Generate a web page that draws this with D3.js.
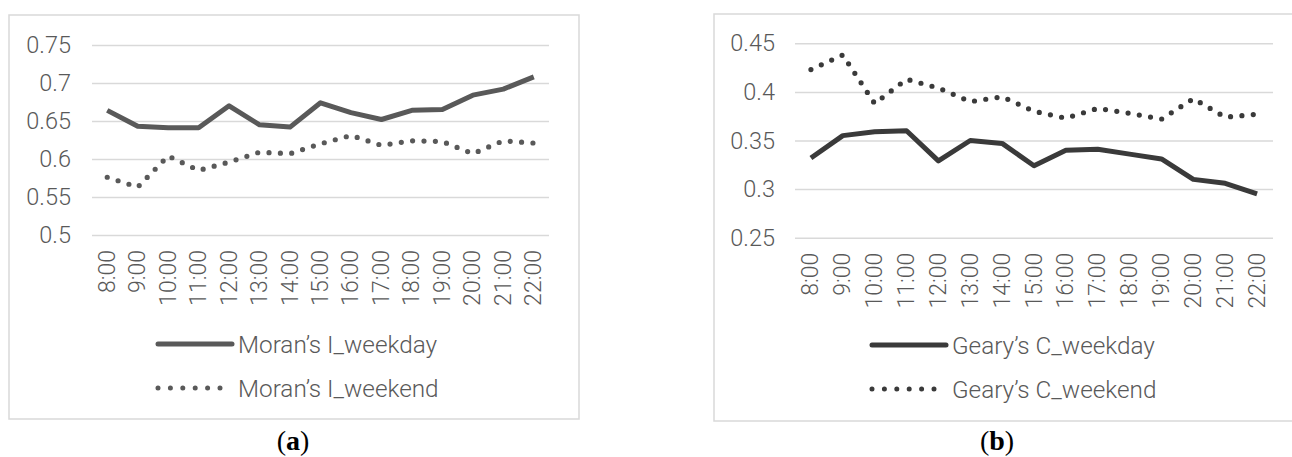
<!DOCTYPE html>
<html>
<head>
<meta charset="utf-8">
<script src="https://cdn.jsdelivr.net/npm/d3@7"></script>
<style>
  body { margin: 0; background: #fff; }
  svg { display: block; }
  text { font-family: Roboto, "Noto Sans", sans-serif; font-weight: 300; }
</style>
</head>
<body>
<script>
// hours on the x axis (same for both panels)
const hours = ["8:00", "9:00", "10:00", "11:00", "12:00", "13:00", "14:00", "15:00",
  "16:00", "17:00", "18:00", "19:00", "20:00", "21:00", "22:00"];

// panel (a)
const moranWeekday = [0.664, 0.643, 0.641, 0.641, 0.670, 0.645, 0.642, 0.674,
  0.661, 0.652, 0.664, 0.665, 0.684, 0.692, 0.708];
const moranWeekend = [0.576, 0.563, 0.604, 0.585, 0.596, 0.609, 0.607, 0.620,
  0.631, 0.618, 0.624, 0.623, 0.607, 0.624, 0.621];
const moranTicks = [0.5, 0.55, 0.6, 0.65, 0.7, 0.75];
const moranLegend = ["Moran\u2019s I_weekday", "Moran\u2019s I_weekend"];

// panel (b)
const gearyWeekday = [0.332, 0.355, 0.359, 0.360, 0.329, 0.350, 0.347, 0.324,
  0.340, 0.341, 0.336, 0.331, 0.310, 0.306, 0.295];
const gearyWeekend = [0.423, 0.438, 0.388, 0.413, 0.404, 0.390, 0.395, 0.380,
  0.373, 0.383, 0.378, 0.372, 0.393, 0.374, 0.377];
const gearyTicks = [0.25, 0.3, 0.35, 0.4, 0.45];
const gearyLegend = ["Geary\u2019s C_weekday", "Geary\u2019s C_weekend"];

const svg = d3.select("body").append("svg")
  .attr("width", 1292)
  .attr("height", 457);

function panel(opt) {
  const g = svg.append("g");

  // outer frame
  g.append("rect")
    .attr("x", opt.box[0]).attr("y", opt.box[1])
    .attr("width", opt.box[2]).attr("height", opt.box[3])
    .attr("fill", "none")
    .attr("stroke", "#d9d9d9")
    .attr("stroke-width", 1.5);

  const x = d3.scaleBand()
    .domain(hours)
    .range([opt.left, opt.right]);

  const y = d3.scaleLinear()
    .domain(d3.extent(opt.ticks))
    .range([opt.bottom, opt.top]);

  // gridlines + y labels
  const yAxis = g.append("g")
    .attr("transform", `translate(${opt.left},0)`)
    .call(d3.axisLeft(y).tickValues(opt.ticks)
      .tickSize(-(opt.right - opt.left))
      .tickPadding(opt.left - opt.labelRight)
      .tickFormat(d => String(+d.toFixed(2))));
  yAxis.select(".domain").remove();
  yAxis.selectAll(".tick line").attr("stroke", "#d9d9d9").attr("stroke-width", 1.5);
  yAxis.selectAll(".tick text")
    .attr("fill", "#595959")
    .style("font-size", "23.5px");

  // x labels, rotated
  const xAxis = g.append("g")
    .attr("transform", `translate(0,${opt.bottom})`)
    .call(d3.axisBottom(x).tickSize(0).tickPadding(0));
  xAxis.select(".domain").remove();
  xAxis.selectAll(".tick text")
    .attr("fill", "#595959")
    .style("font-size", "23px")
    .attr("text-anchor", "end")
    .attr("dy", null)
    .attr("y", 0)
    .attr("transform", "translate(0,15) rotate(-90)")
    .attr("x", 0)
    .attr("dominant-baseline", "central");

  const line = d3.line()
    .x((d, i) => x(hours[i]) + x.bandwidth() / 2)
    .y(d => y(d));

  g.append("path")
    .datum(opt.weekday)
    .attr("d", line)
    .attr("fill", "none")
    .attr("stroke", opt.color)
    .attr("stroke-width", 5)
    .attr("stroke-linejoin", "round");

  g.append("path")
    .datum(opt.weekend)
    .attr("d", line)
    .attr("fill", "none")
    .attr("stroke", opt.color)
    .attr("stroke-width", 5.2)
    .attr("stroke-linecap", "round")
    .attr("stroke-dasharray", "0 11.4");

  // legend
  const lg = g.append("g");
  opt.legend.forEach((name, i) => {
    const ly = opt.legendY + i * 44;
    lg.append("line")
      .attr("x1", opt.legendX).attr("x2", opt.legendX + 74)
      .attr("y1", ly).attr("y2", ly)
      .attr("stroke", opt.color)
      .attr("stroke-width", 5)
      .attr("stroke-linecap", "round")
      .attr("stroke-dasharray", i === 0 ? null : "0 12.4");
    lg.append("text")
      .attr("x", opt.legendX + 80)
      .attr("y", ly)
      .attr("dy", "0.35em")
      .attr("fill", "#595959")
      .style("font-size", "24.3px")
      .text(name);
  });

  // caption
  g.append("text")
    .attr("x", opt.captionX)
    .attr("y", 450)
    .attr("text-anchor", "middle")
    .style("font-family", "'Liberation Serif', 'DejaVu Serif', serif")
    .style("font-weight", "normal")
    .style("font-size", "28px")
    .attr("fill", "#000")
    .html(`(<tspan font-weight="bold">${opt.caption}</tspan>)`);
}

panel({
  box: [9, 15, 570, 404],
  left: 92, right: 549, top: 45, bottom: 235, labelRight: 71,
  ticks: moranTicks,
  weekday: moranWeekday, weekend: moranWeekend,
  color: "#595959",
  legend: moranLegend, legendX: 158, legendY: 344,
  caption: "a", captionX: 293
});

panel({
  box: [714, 14, 640, 407],
  left: 795, right: 1273, top: 43.3, bottom: 237.7, labelRight: 775,
  ticks: gearyTicks,
  weekday: gearyWeekday, weekend: gearyWeekend,
  color: "#3a3a3a",
  legend: gearyLegend, legendX: 872, legendY: 345,
  caption: "b", captionX: 997
});
</script>
</body>
</html>
